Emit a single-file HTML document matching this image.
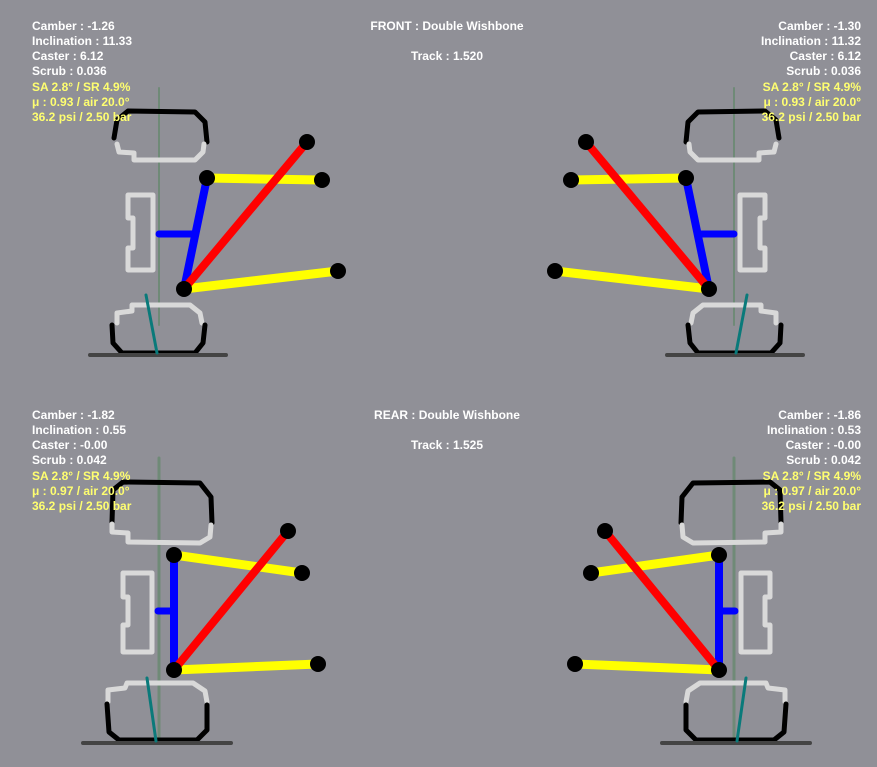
<!DOCTYPE html>
<html><head><meta charset="utf-8"><style>
html,body{margin:0;padding:0;background:#909097;}
svg{display:block}
text{font-family:"Liberation Sans",sans-serif;font-weight:bold;font-size:12px;}
.w{fill:#fff}.y{fill:#ffff70}
</style></head><body>
<svg width="877" height="767" viewBox="0 0 877 767" xmlns="http://www.w3.org/2000/svg">
<rect width="877" height="767" fill="#909097"/>
<defs>
<g id="front" fill="none" stroke-linecap="round" stroke-linejoin="round">
  <line x1="159" y1="88" x2="159" y2="325" stroke="#6f8a77" stroke-width="2"/>
  <polyline points="114,138 117,120 128,111 195,112 205,122 207,142" stroke="#000" stroke-width="5"/>
  <polyline points="117,144 119,152 134,153 134,160 195,160 203,152 204,144" stroke="#d9d9d9" stroke-width="5"/>
  <polygon points="128,195 153,195 153,270 128,270 128,248 133,248 133,218 128,218" stroke="#d9d9d9" stroke-width="5"/>
  <polyline points="117,323 117,313 132,311 132,305 190,305 200,313 202,323" stroke="#d9d9d9" stroke-width="5"/>
  <polyline points="112,325 113,343 122,353 195,353 203,343 205,325" stroke="#000" stroke-width="5"/>
  <line x1="90" y1="355" x2="226" y2="355" stroke="#444" stroke-width="4"/>
  <line x1="146" y1="295" x2="157" y2="353" stroke="#0a7a7a" stroke-width="3"/>
  <line x1="159" y1="234" x2="194" y2="234" stroke="#0000ff" stroke-width="7"/>
  <line x1="207" y1="178" x2="184" y2="289" stroke="#0000ff" stroke-width="8"/>
  <line x1="207" y1="178" x2="322" y2="180" stroke="#ffff00" stroke-width="9"/>
  <line x1="184" y1="289" x2="338" y2="271" stroke="#ffff00" stroke-width="9"/>
  <line x1="184" y1="289" x2="307" y2="142" stroke="#ff0000" stroke-width="8"/>
  <g fill="#000" stroke="none">
    <circle cx="207" cy="178" r="8"/><circle cx="322" cy="180" r="8"/><circle cx="307" cy="142" r="8"/>
    <circle cx="184" cy="289" r="8"/><circle cx="338" cy="271" r="8"/>
  </g>
</g>
<g id="rear" fill="none" stroke-linecap="round" stroke-linejoin="round">
  <line x1="159" y1="458" x2="159" y2="740" stroke="#6f8a77" stroke-width="3"/>
  <polyline points="112,522 113,490 123,482 200,483 211,497 212,523" stroke="#000" stroke-width="5"/>
  <polyline points="112,524 112,532 128,533 128,542 200,543 210,537 211,525" stroke="#d9d9d9" stroke-width="5"/>
  <polygon points="123,573 152,573 152,652 123,652 123,625 128,625 128,597 123,597" stroke="#d9d9d9" stroke-width="5"/>
  <polyline points="108,702 108,690 125,688 127,683 193,683 205,691 207,702" stroke="#d9d9d9" stroke-width="5"/>
  <polyline points="107,704 109,732 119,740 197,740 207,730 207,705" stroke="#000" stroke-width="5"/>
  <line x1="83" y1="743" x2="231" y2="743" stroke="#444" stroke-width="4"/>
  <line x1="147" y1="678" x2="156" y2="741" stroke="#0a7a7a" stroke-width="3"/>
  <line x1="158" y1="611" x2="174" y2="611" stroke="#0000ff" stroke-width="7"/>
  <line x1="174" y1="555" x2="174" y2="670" stroke="#0000ff" stroke-width="8"/>
  <line x1="174" y1="555" x2="302" y2="573" stroke="#ffff00" stroke-width="9"/>
  <line x1="174" y1="670" x2="318" y2="664" stroke="#ffff00" stroke-width="9"/>
  <line x1="174" y1="670" x2="288" y2="531" stroke="#ff0000" stroke-width="8"/>
  <g fill="#000" stroke="none">
    <circle cx="174" cy="555" r="8"/><circle cx="302" cy="573" r="8"/><circle cx="288" cy="531" r="8"/>
    <circle cx="174" cy="670" r="8"/><circle cx="318" cy="664" r="8"/>
  </g>
</g>
</defs>
<use href="#front"/>
<use href="#front" transform="translate(893,0) scale(-1,1)"/>
<use href="#rear"/>
<use href="#rear" transform="translate(893,0) scale(-1,1)"/>

<g>
<text x="32" y="30" class="w">Camber : -1.26</text>
<text x="32" y="45" class="w">Inclination : 11.33</text>
<text x="32" y="60" class="w">Caster : 6.12</text>
<text x="32" y="75" class="w">Scrub : 0.036</text>
<text x="32" y="91" class="y">SA 2.8° / SR 4.9%</text>
<text x="32" y="106" class="y">μ : 0.93 / air 20.0°</text>
<text x="32" y="121" class="y">36.2 psi / 2.50 bar</text>
</g>
<g text-anchor="end">
<text x="861" y="30" class="w">Camber : -1.30</text>
<text x="861" y="45" class="w">Inclination : 11.32</text>
<text x="861" y="60" class="w">Caster : 6.12</text>
<text x="861" y="75" class="w">Scrub : 0.036</text>
<text x="861" y="91" class="y">SA 2.8° / SR 4.9%</text>
<text x="861" y="106" class="y">μ : 0.93 / air 20.0°</text>
<text x="861" y="121" class="y">36.2 psi / 2.50 bar</text>
</g>
<g text-anchor="middle">
<text x="447" y="30" class="w">FRONT : Double Wishbone</text>
<text x="447" y="60" class="w">Track : 1.520</text>
<text x="447" y="419" class="w">REAR : Double Wishbone</text>
<text x="447" y="449" class="w">Track : 1.525</text>
</g>
<g>
<text x="32" y="419" class="w">Camber : -1.82</text>
<text x="32" y="434" class="w">Inclination : 0.55</text>
<text x="32" y="449" class="w">Caster : -0.00</text>
<text x="32" y="464" class="w">Scrub : 0.042</text>
<text x="32" y="480" class="y">SA 2.8° / SR 4.9%</text>
<text x="32" y="495" class="y">μ : 0.97 / air 20.0°</text>
<text x="32" y="510" class="y">36.2 psi / 2.50 bar</text>
</g>
<g text-anchor="end">
<text x="861" y="419" class="w">Camber : -1.86</text>
<text x="861" y="434" class="w">Inclination : 0.53</text>
<text x="861" y="449" class="w">Caster : -0.00</text>
<text x="861" y="464" class="w">Scrub : 0.042</text>
<text x="861" y="480" class="y">SA 2.8° / SR 4.9%</text>
<text x="861" y="495" class="y">μ : 0.97 / air 20.0°</text>
<text x="861" y="510" class="y">36.2 psi / 2.50 bar</text>
</g>
</svg>
</body></html>
